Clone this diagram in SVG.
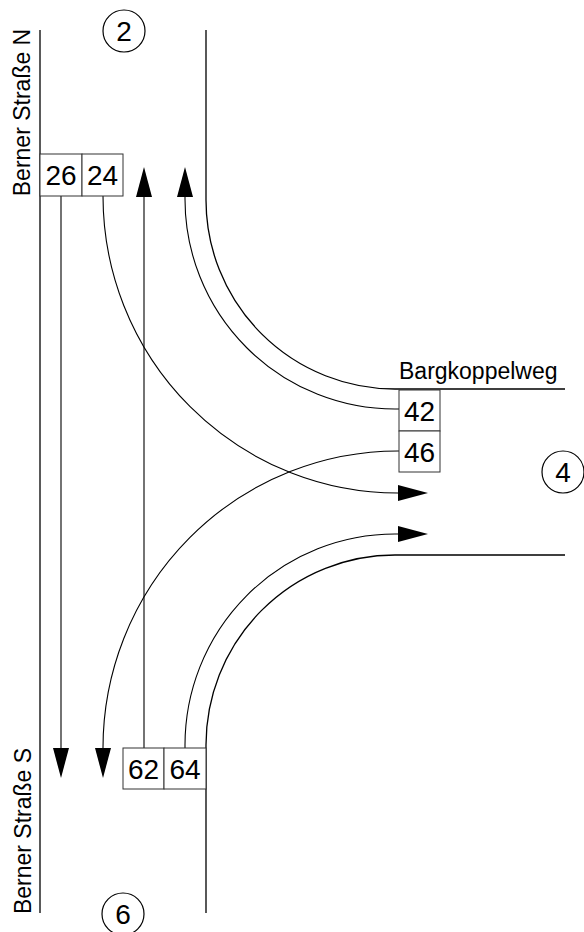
<svg xmlns="http://www.w3.org/2000/svg" width="584" height="932" viewBox="0 0 584 932">
<style>
.road{fill:none;stroke:#000;stroke-width:1.3}
.lane{fill:none;stroke:#000;stroke-width:1.1}
.box{fill:#fff;stroke:#333;stroke-width:1}
.num{font-family:"Liberation Sans",Arial,sans-serif;font-size:28px;fill:#000;text-anchor:middle}
.lbl{font-family:"Liberation Sans",Arial,sans-serif;font-size:23px;fill:#000}
.circ{fill:#fff;stroke:#000;stroke-width:1.2}
.head{fill:#000;stroke:none}
</style>
<rect width="584" height="932" fill="#fff"/>
<g id="roads">
<line class="road" x1="40" y1="30" x2="40" y2="913"/>
<path class="road" d="M206,30 L206,200 A189,189 0 0 0 395,389 L565,389"/>
<path class="road" d="M565,555 L395,555 A189,190 0 0 0 206,745 L206,913"/>
</g>
<g id="labels">
<text class="lbl" text-anchor="middle" transform="translate(30,112.5) rotate(-90)">Berner Straße N</text>
<text class="lbl" text-anchor="middle" transform="translate(31,831) rotate(-90)">Berner Straße S</text>
<text class="lbl" x="399" y="379">Bargkoppelweg</text>
</g>
<g id="connectors">
<line class="lane" x1="61" y1="196" x2="61" y2="750"/>
<polygon class="head" points="53,748 69,748 61,778"/>
<path class="lane" d="M103,196 A295,297 0 0 0 400,493"/>
<polygon class="head" points="398,485 398,501 428,493"/>
<line class="lane" x1="144" y1="748" x2="144" y2="195"/>
<polygon class="head" points="136,197 152,197 144,167"/>
<path class="lane" d="M399,409 L395,409 A210,210 0 0 1 185,199 L185,195"/>
<polygon class="head" points="177,197 193,197 185,167"/>
<path class="lane" d="M399,451 A295,297 0 0 0 103,748 L103,750"/>
<polygon class="head" points="95,748 111,748 103,778"/>
<path class="lane" d="M185,748 L185,745 A210,211 0 0 1 395,534 L400,534"/>
<polygon class="head" points="398,526 398,542 428,534"/>
</g>
<g id="s26"><rect class="box" x="40" y="154" width="42" height="42"/><text class="num" x="61" y="185">26</text></g>
<g id="s24"><rect class="box" x="82" y="154" width="41" height="42"/><text class="num" x="102.5" y="185">24</text></g>
<g id="s42"><rect class="box" x="399" y="390" width="41" height="41"/><text class="num" x="419.5" y="420.5">42</text></g>
<g id="s46"><rect class="box" x="399" y="431" width="41" height="41"/><text class="num" x="419.5" y="461.5">46</text></g>
<g id="s62"><rect class="box" x="123" y="748" width="41" height="41"/><text class="num" x="143.5" y="779">62</text></g>
<g id="s64"><rect class="box" x="164" y="748" width="42" height="41"/><text class="num" x="185" y="779">64</text></g>
<g id="c2"><circle class="circ" cx="124" cy="31" r="21"/><text class="num" x="124" y="41">2</text></g>
<g id="c4"><circle class="circ" cx="563" cy="472" r="21"/><text class="num" x="563" y="482">4</text></g>
<g id="c6"><circle class="circ" cx="123" cy="914" r="21"/><text class="num" x="123" y="924">6</text></g>
</svg>
